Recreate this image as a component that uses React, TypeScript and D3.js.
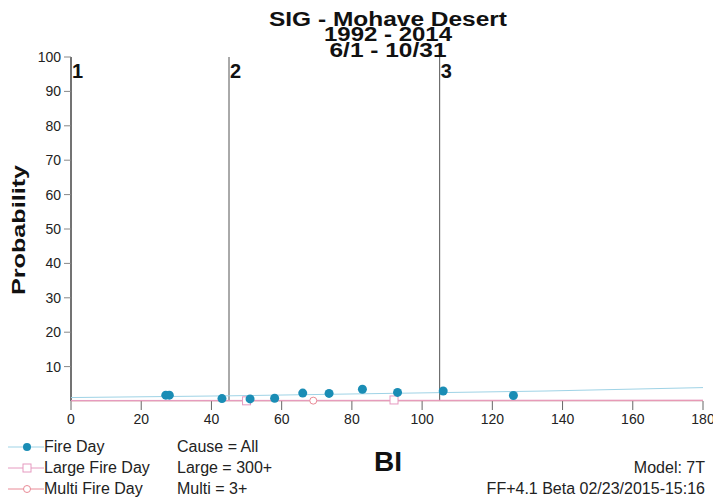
import React from "react";
import * as d3 from "d3";

const titleLines = ["SIG - Mohave Desert", "1992 - 2014", "6/1 - 10/31"];
const titleWidths = [238, 128, 117];
const xTicks = [0, 20, 40, 60, 80, 100, 120, 140, 160, 180];
const yTicks = [10, 20, 30, 40, 50, 60, 70, 80, 90, 100];
const breakpoints = [0, 45, 105];
const breakLabels = ["1", "2", "3"];

const fireDayBI = [27, 28, 43, 51, 58, 66, 73.5, 83, 93, 106, 126];
const fireDayP = [1.7, 1.7, 0.7, 0.6, 0.8, 2.3, 2.2, 3.4, 2.5, 2.9, 1.6];
const fireLineBI = [0, 45, 90, 135, 180];
const fireLineP = [1.0, 1.5, 2.2, 2.9, 3.9];

const largeBI = [50, 92];
const largeP = [0.05, 0.3];
const largeLineBI = [0, 180];
const largeLineP = [0.15, 0.25];

const multiBI = [69];
const multiP = [0.1];
const multiLineBI = [0, 180];
const multiLineP = [0.05, 0.1];

const legendNames = ["Fire Day", "Large Fire Day", "Multi Fire Day"];
const legendNotes = ["Cause = All", "Large = 300+", "Multi = 3+"];

const FONT = "'Liberation Sans', Arial, Helvetica, sans-serif";
const TEAL = "#1a8db5";
const LIGHTBLUE = "#9fd3e6";
const PINK = "#e69ac0";
const RED = "#e98a96";

export default function App() {
  const W = 713, H = 498;
  const x = d3.scaleLinear().domain([0, 180]).range([71, 703]);
  const y = d3.scaleLinear().domain([0, 100]).range([401, 57]);
  const line = d3
    .line<[number, number]>()
    .x((d) => x(d[0]))
    .y((d) => y(d[1]));
  const zip = (a: number[], b: number[]) => a.map((v, i) => [v, b[i]] as [number, number]);

  const legendRows = [0, 1, 2].map((i) => 452 + i * 21);
  const legendColors = [LIGHTBLUE, PINK, RED];

  return (
    <div style={{ position: "absolute", left: 0, top: 0 }}>
      <svg width={W} height={H} style={{ display: "block", background: "#fff" }} fontFamily={FONT}>
        {/* title */}
        {titleLines.map((t, i) => (
          <text
            key={t}
            x={388}
            y={26 + i * 15.3}
            textAnchor="middle"
            fontSize={20}
            fontWeight="bold"
            fill="#111"
            textLength={titleWidths[i]}
            lengthAdjust="spacingAndGlyphs"
          >
            {t}
          </text>
        ))}

        {/* y axis */}
        <line x1={x(0)} x2={x(0)} y1={y(100)} y2={y(0)} stroke="#444" strokeWidth={1.5} />
        {yTicks.map((t) => (
          <g key={t}>
            <line x1={x(0) - 7} x2={x(0)} y1={y(t)} y2={y(t)} stroke="#888" strokeWidth={1} />
            <text x={61} y={y(t) + 5} textAnchor="end" fontSize={14} fill="#222">
              {t}
            </text>
          </g>
        ))}

        {/* x axis */}
        <line x1={x(0)} x2={x(180)} y1={y(0)} y2={y(0)} stroke="#ddd" strokeWidth={1} />
        {xTicks.map((t) => (
          <g key={t}>
            <line x1={x(t)} x2={x(t)} y1={y(0)} y2={y(0) + 9} stroke="#666" strokeWidth={1} />
            <text x={x(t)} y={y(0) + 23} textAnchor="middle" fontSize={14} fill="#222">
              {t}
            </text>
          </g>
        ))}

        {/* break lines */}
        {breakpoints.map((b, i) => (
          <g key={b}>
            {i > 0 && <line x1={x(b)} x2={x(b)} y1={y(100)} y2={y(0)} stroke="#555" strokeWidth={1} />}
            <text x={x(b) + 1} y={y(100) + 21} fontSize={20} fontWeight="bold" fill="#111">
              {breakLabels[i]}
            </text>
          </g>
        ))}

        {/* series lines */}
        <path d={line(zip(multiLineBI, multiLineP)) || ""} fill="none" stroke={RED} strokeWidth={1} />
        <path d={line(zip(largeLineBI, largeLineP)) || ""} fill="none" stroke={PINK} strokeWidth={1} />
        <path d={line(zip(fireLineBI, fireLineP)) || ""} fill="none" stroke={LIGHTBLUE} strokeWidth={1} />

        {largeBI.map((b, i) => (
          <rect key={"l" + i} x={x(b) - 4} y={y(largeP[i]) - 4} width={8} height={8} fill="#fff" stroke={PINK} strokeWidth={1} />
        ))}
        {multiBI.map((b, i) => (
          <circle key={"m" + i} cx={x(b)} cy={y(multiP[i])} r={3.5} fill="#fff" stroke={RED} strokeWidth={1} />
        ))}
        {fireDayBI.map((b, i) => (
          <circle key={"f" + i} cx={x(b)} cy={y(fireDayP[i])} r={4.5} fill={TEAL} />
        ))}

        {/* axis titles */}
        <text
          transform="translate(25,230) rotate(-90)"
          textAnchor="middle"
          fontSize={19}
          fontWeight="bold"
          fill="#111"
          textLength={130}
          lengthAdjust="spacingAndGlyphs"
        >
          Probability
        </text>
        <text x={388} y={471} textAnchor="middle" fontSize={28} fontWeight="bold" fill="#111">
          BI
        </text>

        {/* legend */}
        {legendNames.map((n, i) => (
          <g key={n}>
            <line x1={8} x2={44} y1={legendRows[i] - 5} y2={legendRows[i] - 5} stroke={legendColors[i]} strokeWidth={1} />
            {i === 0 && <circle cx={27} cy={legendRows[i] - 5} r={4} fill={TEAL} />}
            {i === 1 && <rect x={23} y={legendRows[i] - 9} width={8} height={8} fill="#fff" stroke={PINK} />}
            {i === 2 && <circle cx={27} cy={legendRows[i] - 5} r={3.5} fill="#fff" stroke={RED} />}
            <text x={44} y={legendRows[i]} fontSize={16} fill="#222">
              {n}
            </text>
            <text x={177} y={legendRows[i]} fontSize={16} fill="#222">
              {legendNotes[i]}
            </text>
          </g>
        ))}
        <text x={705} y={473} textAnchor="end" fontSize={16} fill="#222">
          Model: 7T
        </text>
        <text x={705} y={494} textAnchor="end" fontSize={16} fill="#222">
          FF+4.1 Beta 02/23/2015-15:16
        </text>
      </svg>
    </div>
  );
}
